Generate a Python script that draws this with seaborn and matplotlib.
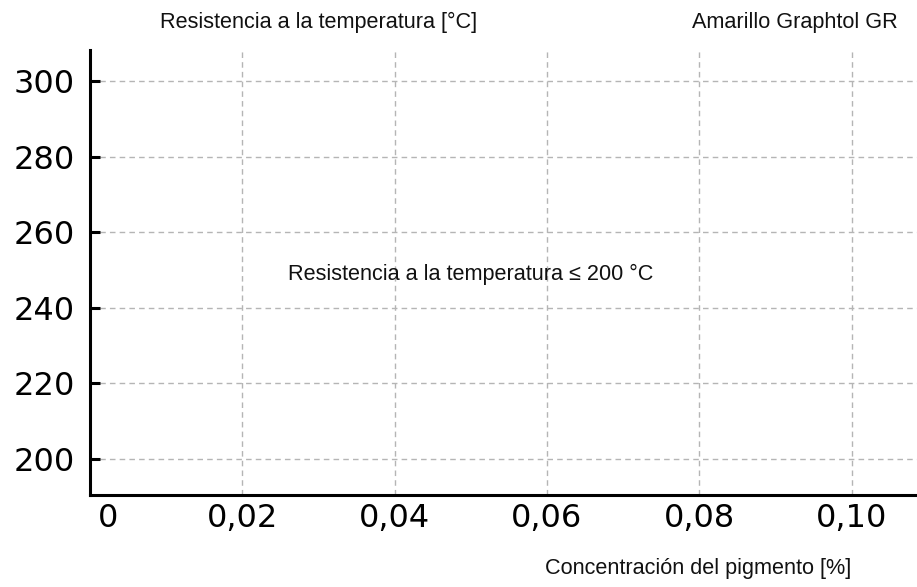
import matplotlib
matplotlib.use("Agg")
import matplotlib.pyplot as plt
import matplotlib.transforms as mtransforms
import seaborn as sns

# chart content (no data series are shown in the reference, only the empty grid)
x_ticks = [0, 0.02, 0.04, 0.06, 0.08, 0.10]
x_tick_labels = ["0", "0,02", "0,04", "0,06", "0,08", "0,10"]
y_ticks = [200, 220, 240, 260, 280, 300]
y_tick_labels = ["200", "220", "240", "260", "280", "300"]
x_range = [0, 0.1086]
y_range = [190.5, 308.2]

title_left = "Resistencia a la temperatura [°C]"
title_right = "Amarillo Graphtol GR"
note = "Resistencia a la temperatura ≤ 200 °C"
x_label = "Concentración del pigmento [%]"

sns.set_style("white")
plt.rcParams["font.family"] = ["DejaVu Sans"]

W, H = 917, 587
fig = plt.figure(figsize=(W / 100, H / 100), dpi=100)
ax = fig.add_axes([90 / W, (H - 495) / H, (W - 90) / W, (495 - 50) / H])

ax.set_xlim(x_range)
ax.set_ylim(y_range)
ax.set_xticks(x_ticks)
ax.set_xticklabels(x_tick_labels)
ax.set_yticks(y_ticks)
ax.set_yticklabels(y_tick_labels)

ax.tick_params(axis="y", left=True, direction="in", length=7, width=2.2, color="black",
               pad=11, labelsize=23, labelcolor="black")
ax.tick_params(axis="x", bottom=True, length=0, pad=6, labelsize=23, labelcolor="black")

# shift the "0" label a little to the right like in the original
lbl0 = ax.get_xticklabels()[0]
lbl0.set_transform(lbl0.get_transform() + mtransforms.ScaledTranslation(18 / 100, 0, fig.dpi_scale_trans))

ax.grid(True, color="#b5b5b5", linestyle=(0, (4, 3)), linewidth=1)
for g in ax.xaxis.get_gridlines()[:1]:
    g.set_visible(False)

for side in ["top", "right"]:
    ax.spines[side].set_visible(False)
for side in ["left", "bottom"]:
    ax.spines[side].set_linewidth(2.2)
    ax.spines[side].set_color("black")

txt = dict(family=["Liberation Sans", "DejaVu Sans"], fontsize=15.6, color="#111111", va="baseline")
fig.text(319 / W, (H - 28) / H, title_left, ha="center", **txt)
fig.text(898 / W, (H - 28) / H, title_right, ha="right", **txt)
fig.text(471 / W, (H - 280) / H, note, ha="center", **txt)
fig.text(851 / W, (H - 574) / H, x_label, ha="right", **txt)

fig.savefig("out.png", dpi=100, facecolor="white")
